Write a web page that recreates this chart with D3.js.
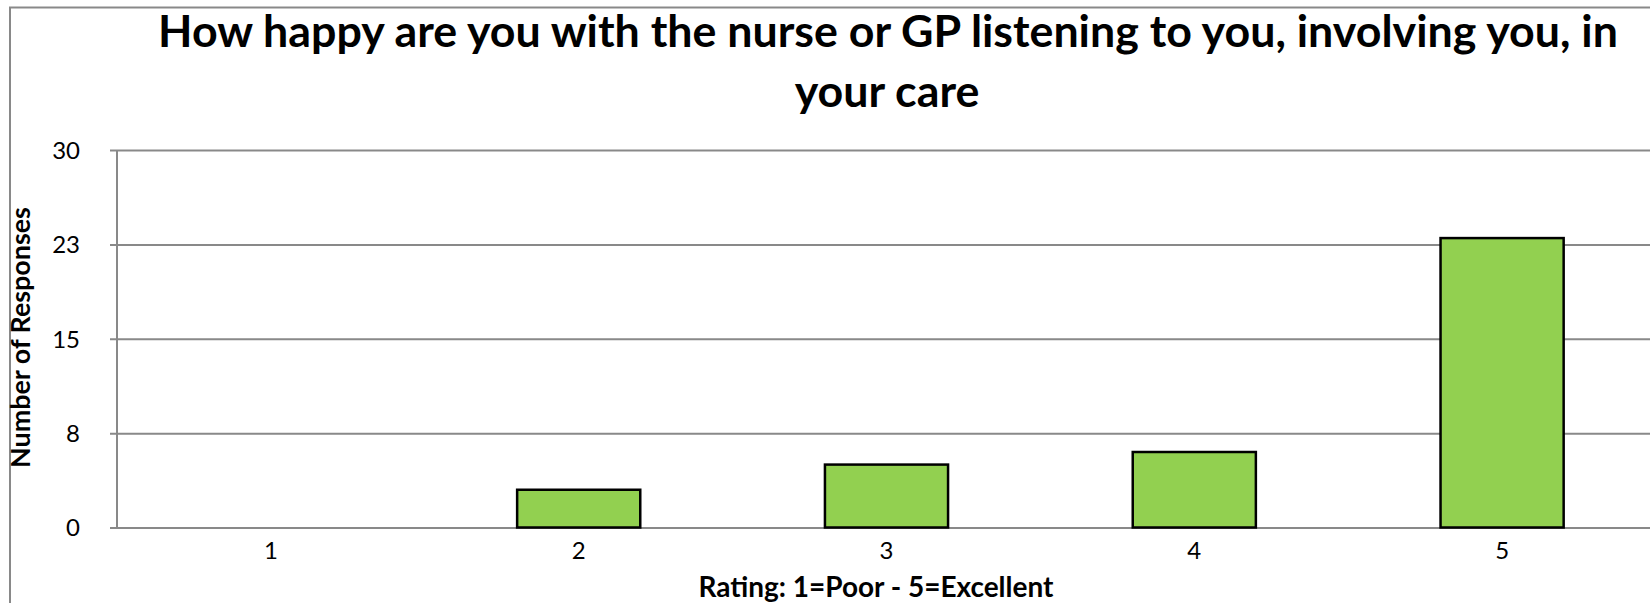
<!DOCTYPE html>
<html>
<head>
<meta charset="utf-8">
<script src="https://cdn.jsdelivr.net/npm/d3@7"></script>
<style>
  html, body { margin: 0; padding: 0; background: #ffffff; }
  svg { display: block; }
  text { font-family: Lato, "Open Sans", "Liberation Sans", sans-serif; }
</style>
</head>
<body>
<svg id="chart" width="1650" height="603"></svg>
<script>
const categories = ["1", "2", "3", "4", "5"];
const values = [0, 3, 5, 6, 23];
const yTickValues = [0, 7.5, 15, 22.5, 30];
const yTickLabels = ["0", "8", "15", "23", "30"];
const titleLines = ["How happy are you with the nurse or GP listening to you, involving you, in", "your care"];
const xTitle = "Rating: 1=Poor - 5=Excellent";
const yTitle = "Number of Responses";

const svg = d3.select("#chart");
const gridColor = "#898989";

// outer chart frame
svg.append("rect")
  .attr("x", 10).attr("y", 7.5)
  .attr("width", 1700).attr("height", 700)
  .attr("fill", "none").attr("stroke", gridColor).attr("stroke-width", 2);

const x = d3.scaleBand().domain(categories).range([117, 1656]).paddingInner(0.6).paddingOuter(0.3);
const y = d3.scaleLinear().domain([0, 30]).range([527.5, 150]);

// gridlines + y ticks
const yAxis = d3.axisLeft(y).tickValues(yTickValues)
  .tickSize(-(1656 - 117)).tickSizeOuter(0)
  .tickFormat((d, i) => yTickLabels[i]);
const gy = svg.append("g").attr("transform", "translate(117,0)").call(yAxis);
gy.select(".domain").remove();
gy.selectAll(".tick line").attr("x1", -7).attr("stroke", gridColor).attr("stroke-width", 2);
gy.selectAll(".tick text").attr("x", -37).attr("dy", "0.35em")
  .style("font-size", "24px").attr("fill", "#000").style("font-family", "Lato, sans-serif");

// y axis line
svg.append("line").attr("x1", 117).attr("x2", 117).attr("y1", y(30)).attr("y2", y(0))
  .attr("stroke", gridColor).attr("stroke-width", 2);

// bars
svg.append("g").selectAll("rect").data(values).join("rect")
  .attr("x", (d, i) => x(categories[i]))
  .attr("y", d => y(d))
  .attr("width", x.bandwidth())
  .attr("height", d => y(0) - y(d))
  .attr("fill", "#92D050")
  .attr("stroke", "#000")
  .attr("stroke-width", 2.5)
  .style("display", d => d > 0 ? null : "none");

// x axis labels
const xAxis = d3.axisBottom(x).tickSize(0).tickPadding(14);
const gx = svg.append("g").attr("transform", `translate(0,${y(0)})`).call(xAxis);
gx.select(".domain").remove();
gx.selectAll(".tick text").style("font-size", "24px").attr("fill", "#000").style("font-family", "Lato, sans-serif");

function fitText(sel, targetWidth) {
  const node = sel.node();
  const base = 40;
  sel.attr("font-size", base);
  const len = node.getComputedTextLength();
  sel.attr("font-size", base * targetWidth / len);
}

// title
const t1 = svg.append("text").attr("x", 888).attr("y", 47).attr("text-anchor", "middle")
  .attr("font-weight", "bold").attr("fill", "#000").text(titleLines[0]);
fitText(t1, 1460);
const titleSize = +t1.attr("font-size");
svg.append("text").attr("x", 887).attr("y", 107).attr("text-anchor", "middle")
  .attr("font-weight", "bold").attr("fill", "#000").attr("font-size", titleSize).text(titleLines[1]);

// x title
const xt = svg.append("text").attr("x", 876).attr("y", 597).attr("text-anchor", "middle")
  .attr("font-weight", "bold").attr("fill", "#000").text(xTitle);
fitText(xt, 355);

// y title
const yt = svg.append("text").attr("transform", "translate(30,337.5) rotate(-90)")
  .attr("text-anchor", "middle").attr("font-weight", "bold").attr("fill", "#000").text(yTitle);
fitText(yt, 261);
</script>
</body>
</html>
